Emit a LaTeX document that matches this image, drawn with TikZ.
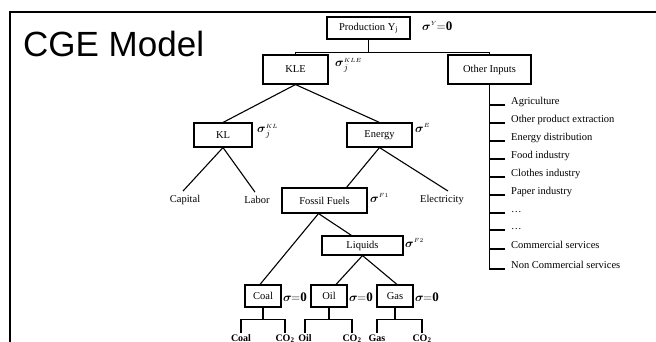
\documentclass[tikz,border=0pt]{standalone}
\usepackage{amsmath}
\usepackage{fontspec}
\setmainfont{Liberation Serif}
\setsansfont{Liberation Sans}
\usetikzlibrary{calc}
\newcommand{\bsig}{\boldsymbol{\sigma}}
\newcommand{\eqz}{\mkern-1mu\mathbf{{=}0}}
\begin{document}
\begin{tikzpicture}[x=1pt,y=-1pt,
  box/.style={draw,line width=1.1pt,inner sep=0pt,font=\fontsize{10.5}{12}\selectfont},
  lbl/.style={inner sep=0pt,font=\fontsize{10.5}{12}\selectfont},
  blbl/.style={inner sep=0pt,outer sep=1.5pt,anchor=north,font=\bfseries\fontsize{10}{12}\selectfont},
  sigl/.style={anchor=west,inner sep=0pt,font=\fontsize{13}{14}\selectfont},
  conn/.style={line width=1.1pt},
  frame/.style={line width=2pt}]
\useasboundingbox (0,0) rectangle (656,341);
\clip (0,0) rectangle (656,341);
% frame
\draw[frame] (10,345) -- (10,12) -- (660,12);
\node[anchor=west,inner sep=0pt,font=\sffamily\fontsize{35}{40}\selectfont] (title) at (23,44) {CGE Model};
% boxes
\node[box,minimum width=83pt,minimum height=22pt] (prod) at (368.5,28) {Production Y\textsubscript{j}};
\node[box,minimum width=65pt,minimum height=29pt] (kle) at (295.5,69.5) {KLE};
\node[box,minimum width=83pt,minimum height=29pt] (other) at (489.5,69.5) {Other Inputs};
\node[box,minimum width=58pt,minimum height=24pt] (kl) at (223,135) {KL};
\node[box,minimum width=65pt,minimum height=24pt] (energy) at (379.5,135) {Energy};
\node[box,minimum width=85pt,minimum height=25pt] (fossil) at (324.5,200.5) {Fossil Fuels};
\node[box,minimum width=81pt,minimum height=19pt] (liquids) at (362.5,245.5) {Liquids};
\node[box,minimum width=36pt,minimum height=22pt] (coal) at (263,296) {Coal};
\node[box,minimum width=36pt,minimum height=22pt] (oil) at (329,296) {Oil};
\node[box,minimum width=36pt,minimum height=22pt] (gas) at (395,296) {Gas};
% leaves
\node[lbl] (capital) at (185,200) {Capital};
\node[lbl] (labor) at (257,200) {Labor};
\node[lbl] (elec) at (442,200) {Electricity};
% sigmas
\node[sigl] (sY) at (422,26) {$\bsig^{\scriptscriptstyle Y}\eqz$};
\node[sigl] (sKLE) at (335,65) {$\bsig_{j}^{\scriptscriptstyle KLE}$};
\node[sigl] (sKL) at (257,131) {$\bsig_{j}^{\scriptscriptstyle KL}$};
\node[sigl] (sE) at (415,128) {$\bsig^{\scriptscriptstyle E}$};
\node[sigl] (sF1) at (370,198) {$\bsig^{\scriptscriptstyle F1}$};
\node[sigl] (sF2) at (405,243) {$\bsig^{\scriptscriptstyle F2}$};
\node[sigl] (s1) at (283,297) {$\bsig\eqz$};
\node[sigl] (s2) at (349,297) {$\bsig\eqz$};
\node[sigl] (s3) at (415,297) {$\bsig\eqz$};
% production connectors
\draw[conn] (prod.south) -- ++(0,13) coordinate (pj);
\draw[conn] (kle.north) |- (pj) -| (other.north);
% tree connectors
\draw[conn] (kle.south) -- (kl.north);
\draw[conn] (kle.south) -- (energy.north);
\draw[conn] (kl.south) -- ([xshift=-2pt,yshift=4pt]capital.north);
\draw[conn] (kl.south) -- ([xshift=-2pt,yshift=4pt]labor.north);
\draw[conn] (energy.south) -- ([xshift=22pt]fossil.north);
\draw[conn] (energy.south) -- ([xshift=6pt,yshift=4pt]elec.north);
\draw[conn] ([xshift=-6pt]fossil.south) -- ([xshift=-3pt]coal.north);
\draw[conn] ([xshift=-6pt]fossil.south) -- ([xshift=-11pt]liquids.north);
\draw[conn] (liquids.south) -- ([xshift=7pt]oil.north);
\draw[conn] (liquids.south) -- ([xshift=2pt]gas.north);
% bottom labels
\node[blbl] (c1) at (241,333) {Coal};
\node[blbl] (c2) at (285,333) {CO\textsubscript{2}};
\node[blbl] (o1) at (305,333) {Oil};
\node[blbl] (o2) at (352,333) {CO\textsubscript{2}};
\node[blbl] (g1) at (377,333) {Gas};
\node[blbl] (g2) at (422,333) {CO\textsubscript{2}};
\draw[conn] (coal.south) -- ++(0,12) coordinate (cb);
\draw[conn] (c1.north) |- (cb) -| (c2.north);
\draw[conn] (oil.south) -- ++(0,12) coordinate (ob);
\draw[conn] (o1.north) |- (ob) -| (o2.north);
\draw[conn] (gas.south) -- ++(0,12) coordinate (gb);
\draw[conn] (g1.north) |- (gb) -| (g2.north);
% other inputs list
\foreach \n/\y/\t in {1/105/Agriculture,2/123/Other product extraction,3/141/Energy distribution,4/159/Food industry,5/177/Clothes industry,6/195/Paper industry,7/213/\ldots,8/230/\ldots,9/249/Commercial services,10/269/Non Commercial services}{
  \coordinate (t\n) at (505,\y);
  \node[lbl,anchor=base west] (i\n) at (511,\y-1) {\t};
}
\draw[conn] (other.south) |- (t10);
\foreach \n in {1,...,9}{\draw[conn] (other.south |- t\n) -- (t\n);}
\end{tikzpicture}
\end{document}
